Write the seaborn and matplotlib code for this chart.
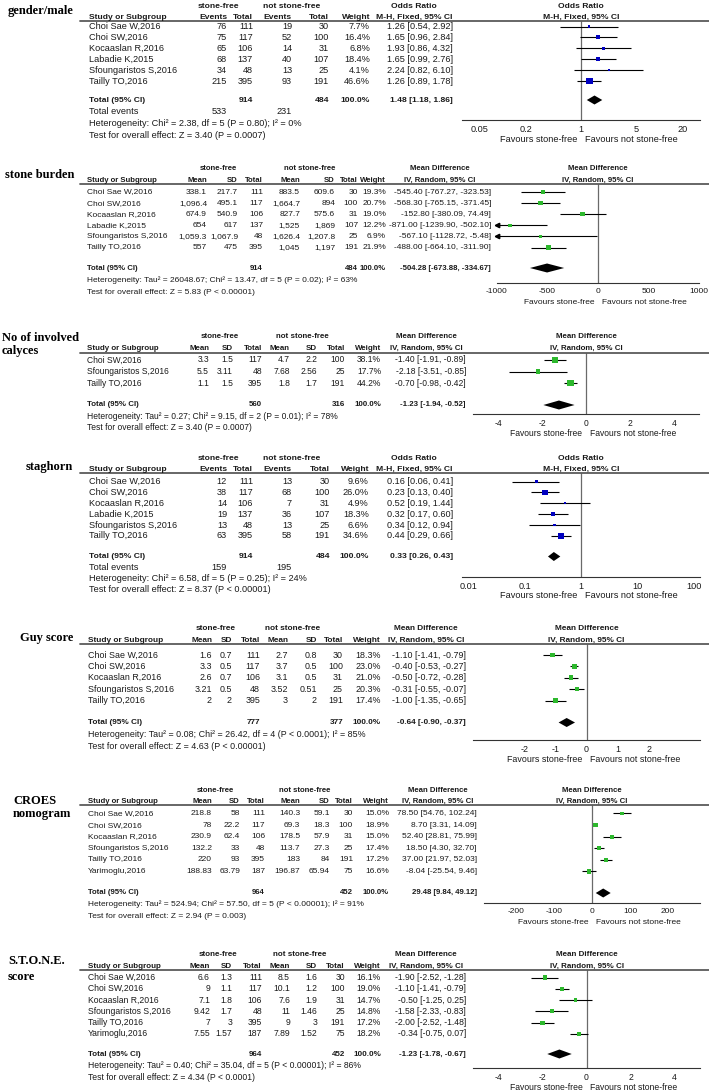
import matplotlib
matplotlib.use("Agg")
import matplotlib.pyplot as plt
import matplotlib.transforms as mtransforms
from matplotlib.lines import Line2D
from matplotlib.ticker import NullLocator
import pandas as pd
import seaborn as sns

sns.set_style("white")
plt.rcParams["font.family"] = ["Liberation Sans", "DejaVu Sans"]

W, H = 709, 1092
FS = 6.6    # regular text
FSB = 6.1   # bold header text
INK = "#1a1a1a"
BLUE = "#0000c0"
GREEN = "#2db82d"
BOX = 0.54  # marker area (pt^2) per % weight

# ---------------- gender/male (odds ratio) ----------------
gm_study = ["Choi Sae W,2016", "Choi SW,2016", "Kocaaslan R,2016", "Labadie K,2015",
            "Sfoungaristos S,2016", "Tailly TO,2016"]
gm_sf_events = [76, 75, 65, 68, 34, 215]
gm_sf_total = [111, 117, 106, 137, 48, 395]
gm_nsf_events = [19, 52, 14, 40, 13, 93]
gm_nsf_total = [30, 100, 31, 107, 25, 191]
gm_weight = [7.7, 16.4, 6.8, 18.4, 4.1, 46.6]
gm_est = [1.26, 1.65, 1.93, 1.65, 2.24, 1.26]
gm_lo = [0.54, 0.96, 0.86, 0.99, 0.82, 0.89]
gm_hi = [2.92, 2.84, 4.32, 2.76, 6.10, 1.78]
gm_total = [914, 484]
gm_total_events = [533, 231]
gm_pooled = [1.48, 1.18, 1.86]
gm_het = "Heterogeneity: Chi² = 2.38, df = 5 (P = 0.80); I² = 0%"
gm_test = "Test for overall effect: Z = 3.40 (P = 0.0007)"

# ---------------- stone burden (mean difference) ----------------
sb_study = gm_study
sb_sf_mean = [338.1, 1096.4, 674.9, 654, 1059.3, 557]
sb_sf_sd = [217.7, 495.1, 540.9, 617, 1067.9, 475]
sb_sf_n = [111, 117, 106, 137, 48, 395]
sb_nsf_mean = [883.5, 1664.7, 827.7, 1525, 1626.4, 1045]
sb_nsf_sd = [609.6, 894, 575.6, 1869, 1207.8, 1197]
sb_nsf_n = [30, 100, 31, 107, 25, 191]
sb_weight = [19.3, 20.7, 19.0, 12.2, 6.9, 21.9]
sb_est = [-545.40, -568.30, -152.80, -871.00, -567.10, -488.00]
sb_lo = [-767.27, -765.15, -380.09, -1239.90, -1128.72, -664.10]
sb_hi = [-323.53, -371.45, 74.49, -502.10, -5.48, -311.90]
sb_total = [914, 484]
sb_pooled = [-504.28, -673.88, -334.67]
sb_het = "Heterogeneity: Tau² = 26048.67; Chi² = 13.47, df = 5 (P = 0.02); I² = 63%"
sb_test = "Test for overall effect: Z = 5.83 (P < 0.00001)"

# ---------------- No of involved calyces ----------------
nc_study = ["Choi SW,2016", "Sfoungaristos S,2016", "Tailly TO,2016"]
nc_sf_mean = [3.3, 5.5, 1.1]
nc_sf_sd = [1.5, 3.11, 1.5]
nc_sf_n = [117, 48, 395]
nc_nsf_mean = [4.7, 7.68, 1.8]
nc_nsf_sd = [2.2, 2.56, 1.7]
nc_nsf_n = [100, 25, 191]
nc_weight = [38.1, 17.7, 44.2]
nc_est = [-1.40, -2.18, -0.70]
nc_lo = [-1.91, -3.51, -0.98]
nc_hi = [-0.89, -0.85, -0.42]
nc_total = [560, 316]
nc_pooled = [-1.23, -1.94, -0.52]
nc_het = "Heterogeneity: Tau² = 0.27; Chi² = 9.15, df = 2 (P = 0.01); I² = 78%"
nc_test = "Test for overall effect: Z = 3.40 (P = 0.0007)"

# ---------------- staghorn (odds ratio) ----------------
sh_study = gm_study
sh_sf_events = [12, 38, 14, 19, 13, 63]
sh_sf_total = [111, 117, 106, 137, 48, 395]
sh_nsf_events = [13, 68, 7, 36, 13, 58]
sh_nsf_total = [30, 100, 31, 107, 25, 191]
sh_weight = [9.6, 26.0, 4.9, 18.3, 6.6, 34.6]
sh_est = [0.16, 0.23, 0.52, 0.32, 0.34, 0.44]
sh_lo = [0.06, 0.13, 0.19, 0.17, 0.12, 0.29]
sh_hi = [0.41, 0.40, 1.44, 0.60, 0.94, 0.66]
sh_total = [914, 484]
sh_total_events = [159, 195]
sh_pooled = [0.33, 0.26, 0.43]
sh_het = "Heterogeneity: Chi² = 6.58, df = 5 (P = 0.25); I² = 24%"
sh_test = "Test for overall effect: Z = 8.37 (P < 0.00001)"

# ---------------- Guy score ----------------
gs_study = ["Choi Sae W,2016", "Choi SW,2016", "Kocaaslan R,2016", "Sfoungaristos S,2016", "Tailly TO,2016"]
gs_sf_mean = [1.6, 3.3, 2.6, 3.21, 2]
gs_sf_sd = [0.7, 0.5, 0.7, 0.5, 2]
gs_sf_n = [111, 117, 106, 48, 395]
gs_nsf_mean = [2.7, 3.7, 3.1, 3.52, 3]
gs_nsf_sd = [0.8, 0.5, 0.5, 0.51, 2]
gs_nsf_n = [30, 100, 31, 25, 191]
gs_weight = [18.3, 23.0, 21.0, 20.3, 17.4]
gs_est = [-1.10, -0.40, -0.50, -0.31, -1.00]
gs_lo = [-1.41, -0.53, -0.72, -0.55, -1.35]
gs_hi = [-0.79, -0.27, -0.28, -0.07, -0.65]
gs_total = [777, 377]
gs_pooled = [-0.64, -0.90, -0.37]
gs_het = "Heterogeneity: Tau² = 0.08; Chi² = 26.42, df = 4 (P < 0.0001); I² = 85%"
gs_test = "Test for overall effect: Z = 4.63 (P < 0.00001)"

# ---------------- CROES nomogram ----------------
cr_study = ["Choi Sae W,2016", "Choi SW,2016", "Kocaaslan R,2016", "Sfoungaristos S,2016",
            "Tailly TO,2016", "Yarimoglu,2016"]
cr_sf_mean = [218.8, 78, 230.9, 132.2, 220, 188.83]
cr_sf_sd = [58, 22.2, 62.4, 33, 93, 63.79]
cr_sf_n = [111, 117, 106, 48, 395, 187]
cr_nsf_mean = [140.3, 69.3, 178.5, 113.7, 183, 196.87]
cr_nsf_sd = [59.1, 18.3, 57.9, 27.3, 84, 65.94]
cr_nsf_n = [30, 100, 31, 25, 191, 75]
cr_weight = [15.0, 18.9, 15.0, 17.4, 17.2, 16.6]
cr_est = [78.50, 8.70, 52.40, 18.50, 37.00, -8.04]
cr_lo = [54.76, 3.31, 28.81, 4.30, 21.97, -25.54]
cr_hi = [102.24, 14.09, 75.99, 32.70, 52.03, 9.46]
cr_total = [964, 452]
cr_pooled = [29.48, 9.84, 49.12]
cr_het = "Heterogeneity: Tau² = 524.94; Chi² = 57.50, df = 5 (P < 0.00001); I² = 91%"
cr_test = "Test for overall effect: Z = 2.94 (P = 0.003)"

# ---------------- S.T.O.N.E. score ----------------
st_study = cr_study
st_sf_mean = [6.6, 9, 7.1, 9.42, 7, 7.55]
st_sf_sd = [1.3, 1.1, 1.8, 1.7, 3, 1.57]
st_sf_n = [111, 117, 106, 48, 395, 187]
st_nsf_mean = [8.5, 10.1, 7.6, 11, 9, 7.89]
st_nsf_sd = [1.6, 1.2, 1.9, 1.46, 3, 1.52]
st_nsf_n = [30, 100, 31, 25, 191, 75]
st_weight = [16.1, 19.0, 14.7, 14.8, 17.2, 18.2]
st_est = [-1.90, -1.10, -0.50, -1.58, -2.00, -0.34]
st_lo = [-2.52, -1.41, -1.25, -2.33, -2.52, -0.75]
st_hi = [-1.28, -0.79, 0.25, -0.83, -1.48, 0.07]
st_total = [964, 452]
st_pooled = [-1.23, -1.78, -0.67]
st_het = "Heterogeneity: Tau² = 0.40; Chi² = 35.04, df = 5 (P < 0.00001); I² = 86%"
st_test = "Test for overall effect: Z = 4.34 (P < 0.0001)"


def draw_panel(fig, T, lay, kind, study, colvals, weight, est, lo, hi, totals, pooled,
               het, test, xlim, ticks, total_events=None):
    is_or = kind == "or"
    colour = BLUE if is_or else GREEN
    sc = lay["fs"]
    xs = lay["cols"]
    ncol = len(colvals)
    name_x, val_x, w_x, e_x = xs[0], xs[1:ncol + 1], xs[ncol + 1], xs[ncol + 2]

    def put(x, y, s, ha="left", bold=False, tr=T):
        fig.text(x, y, s, transform=tr, ha=ha, va="center",
                 fontsize=(FSB if bold else FS) * sc,
                 fontweight="bold" if bold else "normal", color=INK)

    for s, x, y, ha in lay["title"]:
        fig.text(x, y, s, transform=T, ha=ha, va="center", fontsize=9, fontweight="bold",
                 family="Liberation Serif", color="black")

    # headers
    h1, h2 = lay["h1"], lay["h2"]
    put(lay["grp"][0], h1, "stone-free", "center", True)
    put(lay["grp"][1], h1, "not stone-free", "center", True)
    hdr1 = "Odds Ratio" if is_or else "Mean Difference"
    hdr2 = "M-H, Fixed, 95% CI" if is_or else "IV, Random, 95% CI"
    put(lay["lhdr"], h1, hdr1, "center", True)
    put(lay["lhdr"], h2, hdr2, "center", True)
    put(name_x, h2, "Study or Subgroup", "left", True)
    sub = ["Events", "Total"] * 2 if is_or else ["Mean", "SD", "Total"] * 2
    for x, s in zip(val_x, sub):
        put(x, h2, s, "right", True)
    put(w_x, h2, "Weight", "right", True)
    fig.add_artist(Line2D([80, W], [lay["line"], lay["line"]], transform=T,
                          color="#5a5a5a", lw=1.3))

    # study rows
    ys = [lay["row0"] + i * lay["dy"] for i in range(len(study))]
    for i, y in enumerate(ys):
        put(name_x, y, study[i])
        for x, col in zip(val_x, colvals):
            put(x, y, f"{col[i]:,}", "right")
        put(w_x, y, f"{weight[i]:.1f}%", "right")
        put(e_x, y, f"{est[i]:.2f} [{lo[i]:.2f}, {hi[i]:.2f}]", "right")

    ty = lay["total"]
    put(name_x, ty, "Total (95% CI)", "left", True)
    put(val_x[ncol // 2 - 1], ty, f"{totals[0]}", "right", True)
    put(val_x[-1], ty, f"{totals[1]}", "right", True)
    put(w_x, ty, "100.0%", "right", True)
    put(e_x, ty, f"{pooled[0]:.2f} [{pooled[1]:.2f}, {pooled[2]:.2f}]", "right", True)

    fy = ty + lay["foot"]
    if total_events is not None:
        put(name_x, fy, "Total events")
        put(val_x[0], fy, f"{total_events[0]}", "right")
        put(val_x[2], fy, f"{total_events[1]}", "right")
        fy += lay["foot"]
    put(name_x, fy, het)
    put(name_x, fy + lay["foot"], test)

    # forest area
    ax = fig.add_axes([lay["xl"] / W, 1 - lay["axis"] / H,
                       (lay["xr"] - lay["xl"]) / W, (lay["axis"] - lay["line"]) / H])
    ax.patch.set_visible(False)
    if is_or:
        ax.set_xscale("log")
    null = 1 if is_or else 0
    ax.axvline(null, color="#6a6a6a", lw=0.9, zorder=1)

    lo_c = [max(v, xlim[0]) for v in lo]
    hi_c = [min(v, xlim[1]) for v in hi]
    ax.hlines(ys, lo_c, hi_c, color="black", lw=0.8, zorder=2)
    for y, a, b in zip(ys, lo, hi):
        if a < xlim[0]:
            ax.plot([xlim[0]], [y], marker="<", ms=3.2, color="black", clip_on=False, zorder=2)
        if b > xlim[1]:
            ax.plot([xlim[1]], [y], marker=">", ms=3.2, color="black", clip_on=False, zorder=2)

    df = pd.DataFrame({"est": est, "y": ys, "weight": weight})
    sns.scatterplot(data=df, x="est", y="y", size="weight", sizes=(0, 100 * BOX),
                    size_norm=(0, 100), marker="s", color=colour, linewidth=0,
                    legend=False, ax=ax, zorder=3)

    ax.fill([pooled[1], pooled[0], pooled[2], pooled[0]], [ty, ty - 4.5, ty, ty + 4.5],
            color="black", zorder=3, lw=0)

    ax.set_xlim(*xlim)
    ax.set_ylim(lay["axis"], lay["line"])
    ax.set_yticks([])
    ax.set_xticks(ticks, labels=[f"{t:g}" for t in ticks])
    ax.xaxis.set_minor_locator(NullLocator())
    ax.set_xlabel("")
    ax.set_ylabel("")
    for side in ["top", "left", "right"]:
        ax.spines[side].set_visible(False)
    ax.spines["bottom"].set_color("#333333")
    ax.spines["bottom"].set_linewidth(0.8)
    ax.tick_params(axis="x", direction="inout", length=5, width=0.8, pad=1,
                   labelsize=FS * sc, colors=INK)

    BT = mtransforms.blended_transform_factory(ax.transData, T)
    put(null, h1, hdr1, "center", True, BT)
    put(null, h2, hdr2, "center", True, BT)
    put(null, lay["fav"], "Favours stone-free", "right", False,
        mtransforms.offset_copy(BT, fig=fig, x=-4, units="dots"))
    put(null, lay["fav"], "Favours not stone-free", "left", False,
        mtransforms.offset_copy(BT, fig=fig, x=4, units="dots"))


fig = plt.figure(figsize=(W / 100, H / 100), dpi=100)
fig.patch.set_facecolor("white")
T = mtransforms.Affine2D().scale(1 / W, -1 / H).translate(0, 1) + fig.transFigure

L_gm = dict(title=[("gender/male", 74, 11, "right")], fs=1.0, h1=7, h2=17.5, line=21, row0=26.5,
            dy=10.9, total=100, foot=11.8, axis=120, fav=139, cols=[89, 227, 253, 292, 329, 370, 453],
            grp=[218, 292], lhdr=414, xl=462, xr=700)
L_sb = dict(title=[("stone burden", 74, 175, "right")], fs=0.91, h1=168, h2=180, line=184, row0=192,
            dy=11.1, total=268, foot=12, axis=283, fav=303,
            cols=[87, 207, 238, 263, 300, 335, 358, 386, 491], grp=[218, 310], lhdr=440, xl=497, xr=699)
L_nc = dict(title=[("No of involved", 2, 338, "left"), ("calyces", 2, 351, "left")], fs=0.93,
            h1=337, h2=348.5, line=352.5, row0=360, dy=11.5, total=405, foot=11.5, axis=414, fav=434,
            cols=[87, 209, 233, 262, 290, 317, 345, 381, 466], grp=[220, 302], lhdr=426, xl=473, xr=699)
L_sh = dict(title=[("staghorn", 73, 467, "right")], fs=1.0, h1=458, h2=469.5, line=473, row0=481.5,
            dy=10.9, total=556.5, foot=11, axis=577, fav=595, cols=[89, 227, 253, 292, 330, 369, 453],
            grp=[218, 292], lhdr=414, xl=462, xr=700)
L_gs = dict(title=[("Guy score", 73, 638, "right")], fs=0.97, h1=628, h2=640, line=644, row0=655,
            dy=11.4, total=722.5, foot=11.8, axis=740, fav=760,
            cols=[88, 212, 232, 260, 288, 317, 343, 381, 466], grp=[216, 293], lhdr=426, xl=473, xr=700)
L_cr = dict(title=[("CROES", 13, 801, "left"), ("nomogram", 13, 814, "left")], fs=0.92, h1=790,
            h2=801.5, line=805, row0=813.5, dy=11.6, total=893, foot=11.5, axis=903, fav=923,
            cols=[88, 212, 240, 265, 300, 330, 353, 389, 477], grp=[215, 305], lhdr=438, xl=484, xr=700)
L_st = dict(title=[("S.T.O.N.E.", 8, 961, "left"), ("score", 8, 977, "left")], fs=0.94, h1=954,
            h2=966, line=970, row0=977.5, dy=11.3, total=1054, foot=12, axis=1068, fav=1087,
            cols=[88, 210, 232, 262, 290, 317, 345, 381, 466], grp=[218, 300], lhdr=426, xl=473, xr=700)

draw_panel(fig, T, L_gm, "or", gm_study, [gm_sf_events, gm_sf_total, gm_nsf_events, gm_nsf_total],
           gm_weight, gm_est, gm_lo, gm_hi, gm_total, gm_pooled, gm_het, gm_test,
           (0.03, 33), [0.05, 0.2, 1, 5, 20], gm_total_events)
draw_panel(fig, T, L_sb, "md", sb_study,
           [sb_sf_mean, sb_sf_sd, sb_sf_n, sb_nsf_mean, sb_nsf_sd, sb_nsf_n],
           sb_weight, sb_est, sb_lo, sb_hi, sb_total, sb_pooled, sb_het, sb_test,
           (-1000, 1000), [-1000, -500, 0, 500, 1000])
draw_panel(fig, T, L_nc, "md", nc_study,
           [nc_sf_mean, nc_sf_sd, nc_sf_n, nc_nsf_mean, nc_nsf_sd, nc_nsf_n],
           nc_weight, nc_est, nc_lo, nc_hi, nc_total, nc_pooled, nc_het, nc_test,
           (-5.14, 5.14), [-4, -2, 0, 2, 4])
draw_panel(fig, T, L_sh, "or", sh_study, [sh_sf_events, sh_sf_total, sh_nsf_events, sh_nsf_total],
           sh_weight, sh_est, sh_lo, sh_hi, sh_total, sh_pooled, sh_het, sh_test,
           (0.0078, 128), [0.01, 0.1, 1, 10, 100], sh_total_events)
draw_panel(fig, T, L_gs, "md", gs_study,
           [gs_sf_mean, gs_sf_sd, gs_sf_n, gs_nsf_mean, gs_nsf_sd, gs_nsf_n],
           gs_weight, gs_est, gs_lo, gs_hi, gs_total, gs_pooled, gs_het, gs_test,
           (-3.66, 3.66), [-2, -1, 0, 1, 2])
draw_panel(fig, T, L_cr, "md", cr_study,
           [cr_sf_mean, cr_sf_sd, cr_sf_n, cr_nsf_mean, cr_nsf_sd, cr_nsf_n],
           cr_weight, cr_est, cr_lo, cr_hi, cr_total, cr_pooled, cr_het, cr_test,
           (-284, 284), [-200, -100, 0, 100, 200])
draw_panel(fig, T, L_st, "md", st_study,
           [st_sf_mean, st_sf_sd, st_sf_n, st_nsf_mean, st_nsf_sd, st_nsf_n],
           st_weight, st_est, st_lo, st_hi, st_total, st_pooled, st_het, st_test,
           (-5.15, 5.15), [-4, -2, 0, 2, 4])

fig.savefig("out.png", dpi=100, facecolor="white")
